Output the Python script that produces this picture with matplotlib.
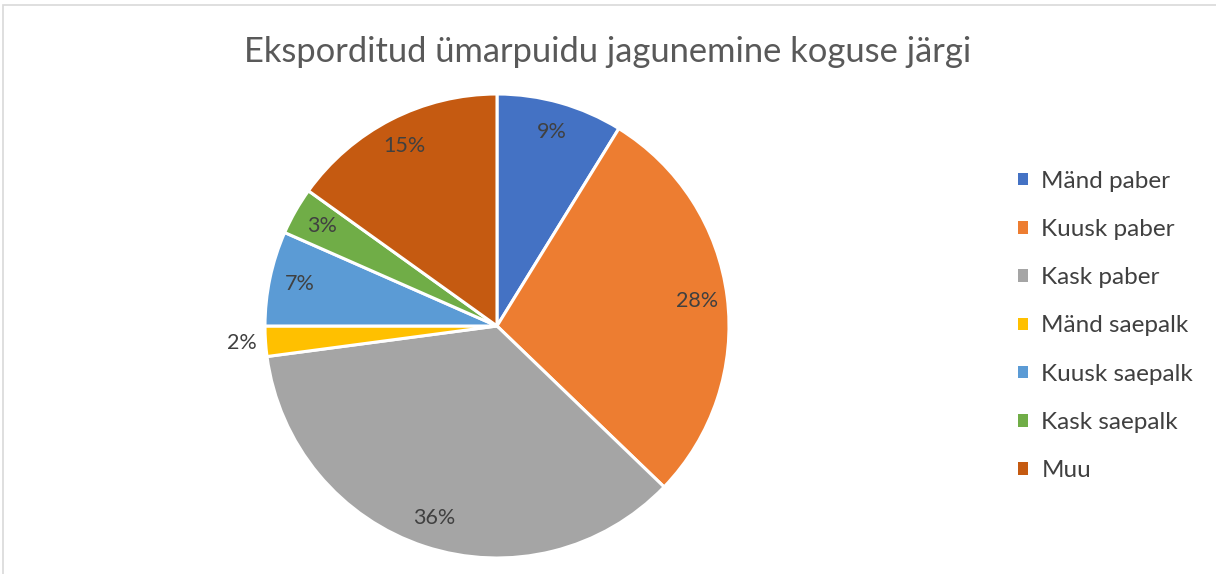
import matplotlib.pyplot as plt
import matplotlib.patches as mpatches
import numpy as np

# data
labels = ['Mänd paber', 'Kuusk paber', 'Kask paber', 'Mänd saepalk',
          'Kuusk saepalk', 'Kask saepalk', 'Muu']
shares = [8.8, 28.4, 35.7, 2.1, 6.6, 3.3, 15.1]
pct_labels = ['9%', '28%', '36%', '2%', '7%', '3%', '15%']
colors = ['#4472C4', '#ED7D31', '#A5A5A5', '#FFC000', '#5B9BD5', '#70AD47', '#C55A11']

plt.rcParams['font.family'] = ['Lato', 'DejaVu Sans']

fig = plt.figure(figsize=(12.16, 5.74), dpi=100)
W, H = 1216, 574

# light frame like the chart area border
fig.add_artist(mpatches.Rectangle((3 / W, -0.01), 1.02, 1 - 5 / H + 0.01,
                                  transform=fig.transFigure, fill=False,
                                  edgecolor='#D9D9D9', linewidth=1.2))

ax = fig.add_axes([265 / W, 16 / H, 464 / W, 464 / H])
wedges, _ = ax.pie(shares, colors=colors, startangle=90, counterclock=False,
                   wedgeprops=dict(edgecolor='white', linewidth=2.2))
ax.set_xlim(-1, 1)
ax.set_ylim(-1, 1)
ax.set_aspect('equal')

# percentage labels, small slice goes outside
for w, txt in zip(wedges, pct_labels):
    mid = np.deg2rad((w.theta1 + w.theta2) / 2)
    r = 1.1 if txt == '2%' else 0.87
    ax.text(r * np.cos(mid), r * np.sin(mid), txt, ha='center', va='center',
            fontsize=15.5, color='#404040')

fig.text(0.5, 1 - 52 / H, 'Eksporditud ümarpuidu jagunemine koguse järgi',
         ha='center', va='center', fontsize=24.8, color='#595959')

handles = [mpatches.Patch(facecolor=c, edgecolor='none') for c in colors]
fig.legend(handles, labels, loc='center left', bbox_to_anchor=(996 / W, 1 - 326 / H),
           frameon=False, fontsize=17.5, labelcolor='#404040', handlelength=0.42,
           handleheight=0.42, handletextpad=0.55, labelspacing=1.12)

fig.savefig('out.png', dpi=100)
